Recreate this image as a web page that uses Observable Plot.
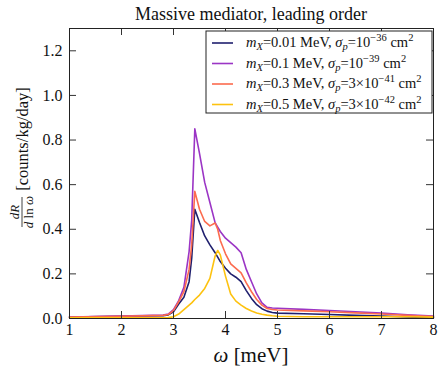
<!DOCTYPE html>
<html><head><meta charset="utf-8">
<script src="https://cdn.jsdelivr.net/npm/d3@7"></script>
<script src="https://cdn.jsdelivr.net/npm/@observablehq/plot@0.6"></script>
<style>body{margin:0;background:#fff} svg text{font-family:"Liberation Serif","DejaVu Serif",serif !important}</style>
</head><body><div id="chart"></div>
<script>
// energy grid (meV)
const omega = [1, 2, 2.8, 2.9, 3.0, 3.1, 3.2, 3.3, 3.35, 3.41, 3.5, 3.6, 3.7, 3.8, 3.85, 3.9, 4.0, 4.1, 4.2, 4.3, 4.4, 4.5, 4.6, 4.7, 4.8, 4.9, 5.0, 5.5, 6, 6.5, 7, 7.5, 8];
// dR/dln(omega) [counts/kg/day]
const rateM001 = [0.006, 0.010, 0.013, 0.016, 0.030, 0.065, 0.095, 0.165, 0.27, 0.49, 0.43, 0.37, 0.33, 0.295, 0.275, 0.255, 0.225, 0.20, 0.185, 0.165, 0.125, 0.090, 0.062, 0.044, 0.033, 0.027, 0.024, 0.021, 0.018, 0.014, 0.011, 0.007, 0.004];
const rateM01  = [0.007, 0.011, 0.015, 0.020, 0.040, 0.080, 0.140, 0.300, 0.44, 0.85, 0.74, 0.61, 0.52, 0.43, 0.41, 0.39, 0.36, 0.34, 0.32, 0.295, 0.22, 0.165, 0.11, 0.07, 0.050, 0.047, 0.046, 0.041, 0.036, 0.030, 0.024, 0.017, 0.011];
const rateM03  = [0.006, 0.010, 0.014, 0.018, 0.035, 0.075, 0.120, 0.220, 0.33, 0.57, 0.49, 0.435, 0.415, 0.428, 0.40, 0.35, 0.29, 0.245, 0.225, 0.205, 0.16, 0.12, 0.085, 0.06, 0.045, 0.040, 0.038, 0.034, 0.030, 0.025, 0.020, 0.014, 0.009];
const rateM05  = [0.003, 0.003, 0.003, 0.004, 0.008, 0.020, 0.040, 0.060, 0.070, 0.085, 0.105, 0.135, 0.18, 0.28, 0.305, 0.285, 0.19, 0.11, 0.078, 0.06, 0.045, 0.034, 0.025, 0.019, 0.015, 0.012, 0.010, 0.008, 0.008, 0.008, 0.008, 0.008, 0.006];

const massLabels = ["0.01", "0.1", "0.3", "0.5"];
const sigmaPrefix = ["", "", "3×", "3×"];
const sigmaExp = ["−36", "−39", "−41", "−42"];
const seriesColors = ["#1f1f6e", "#9b35c5", "#fc6b4e", "#fdc20f"];
const xTicks = [1, 2, 3, 4, 5, 6, 7, 8];
const yTicks = [0, 0.2, 0.4, 0.6, 0.8, 1.0, 1.2];
const yTickLabels = ["0.0", "0.2", "0.4", "0.6", "0.8", "1.0", "1.2"];

const seriesList = [rateM001, rateM01, rateM03, rateM05];
const data = [];
seriesList.forEach((s, i) => omega.forEach((w, j) => data.push({omega: w, rate: s[j], series: i})));

const W = 445, H = 372, mL = 69, mR = 12, mT = 28, mB = 54;
const frameW = W - mL - mR, frameH = H - mT - mB, tk = 7;
const FONT = "Liberation Serif";

const chart = Plot.plot({
  width: W, height: H,
  marginLeft: mL, marginRight: mR, marginTop: mT, marginBottom: mB,
  style: {background: "#fff"},
  x: {domain: [1, 8]},
  y: {domain: [0, 1.3]},
  color: {domain: [0, 1, 2, 3], range: seriesColors},
  marks: [
    Plot.line(data, {x: "omega", y: "rate", z: "series", stroke: "series", strokeWidth: 1.6}),
    Plot.ruleX(xTicks, {x: d => d, insetTop: frameH - tk, stroke: "#333"}),
    Plot.ruleX(xTicks, {x: d => d, insetBottom: frameH - tk, stroke: "#333"}),
    Plot.ruleY(yTicks, {y: d => d, insetRight: frameW - tk, stroke: "#333"}),
    Plot.ruleY(yTicks, {y: d => d, insetLeft: frameW - tk, stroke: "#333"}),
    Plot.axisX({ticks: xTicks, tickSize: 0, tickPadding: 5, fontSize: 16, fontFamily: FONT, label: null, tickFormat: d => String(d), fill: "#111"}),
    Plot.axisY({ticks: yTicks, tickSize: 0, tickPadding: 7, fontSize: 16, fontFamily: FONT, label: null, tickFormat: d => yTickLabels[yTicks.indexOf(d)], fill: "#111"}),
    Plot.frame({stroke: "#222", strokeWidth: 1})
  ]
});
document.getElementById("chart").appendChild(chart);

const svg = d3.select(chart);
const txt = (sel) => sel.append("text").attr("font-family", FONT).attr("fill", "#111");
// title
txt(svg).attr("x", mL + frameW / 2).attr("y", 20).attr("text-anchor", "middle")
  .attr("font-size", 18).text("Massive mediator, leading order");
// x label
const xl = txt(svg).attr("x", mL + frameW / 2).attr("y", 362).attr("text-anchor", "middle").attr("font-size", 21);
xl.append("tspan").attr("font-style", "italic").text("ω");
xl.append("tspan").text(" [meV]");
// y label
const yl = svg.append("g").attr("transform", "translate(23,158) rotate(-90)");
txt(yl).attr("x", 19).attr("y", 5).attr("text-anchor", "middle").attr("font-size", 16.5).text("[counts/kg/day]");
txt(yl).attr("x", -54).attr("y", -4).attr("text-anchor", "middle").attr("font-size", 13).attr("font-style", "italic").text("dR");
yl.append("line").attr("x1", -69).attr("x2", -39).attr("y1", -1).attr("y2", -1).attr("stroke", "#111").attr("stroke-width", 0.8);
const den = txt(yl).attr("x", -54).attr("y", 10).attr("text-anchor", "middle").attr("font-size", 13);
den.append("tspan").attr("font-style", "italic").text("d");
den.append("tspan").text(" ln ");
den.append("tspan").attr("font-style", "italic").text("ω");

// legend
const lg = svg.append("g");
lg.append("rect").attr("x", 206).attr("y", 31).attr("width", 226).attr("height", 82)
  .attr("fill", "#fff").attr("stroke", "#222").attr("stroke-width", 1);
const rowY = [43, 63.5, 84, 104.5];
massLabels.forEach((m, i) => {
  const y = rowY[i];
  lg.append("line").attr("x1", 212).attr("x2", 233).attr("y1", y).attr("y2", y)
    .attr("stroke", seriesColors[i]).attr("stroke-width", 1.6);
  const t = txt(lg).attr("x", 246).attr("y", y + 4).attr("text-anchor", "start").attr("font-size", 14.5);
  t.append("tspan").attr("font-style", "italic").text("m");
  t.append("tspan").attr("font-style", "italic").attr("font-size", 10.5).attr("dy", 3).text("X");
  t.append("tspan").attr("dy", -3).text(`=${m} MeV, `);
  t.append("tspan").attr("font-style", "italic").text("σ");
  t.append("tspan").attr("font-style", "italic").attr("font-size", 10.5).attr("dy", 3).text("p");
  t.append("tspan").attr("dy", -3).text(`=${sigmaPrefix[i]}10`);
  t.append("tspan").attr("font-size", 10.5).attr("dy", -6).text(sigmaExp[i]);
  t.append("tspan").attr("dy", 6).text(" cm");
  t.append("tspan").attr("font-size", 10.5).attr("dy", -6).text("2");
});
</script>
</body></html>
